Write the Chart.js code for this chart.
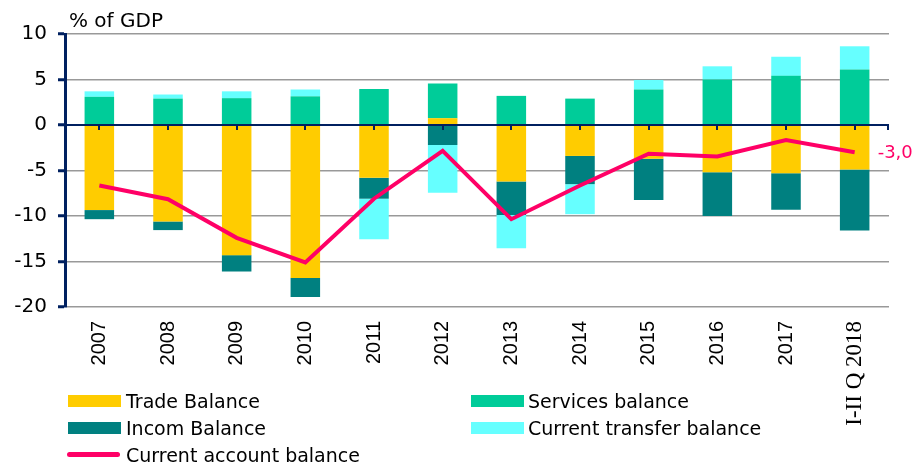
<!DOCTYPE html>
<html>
<head>
<meta charset="utf-8">
<script src="https://cdn.jsdelivr.net/npm/chart.js@4.4.1/dist/chart.umd.min.js"></script>
<style>
  html, body { margin: 0; padding: 0; background: #fff; }
  .wrap { position: relative; width: 914px; height: 463px; }
  .lg { position: absolute; font-family: "DejaVu Sans", sans-serif; font-size: 19px; color: #000; line-height: 22px; white-space: nowrap; }
  .sw { position: absolute; width: 53px; height: 12px; }
  .ln { position: absolute; width: 53px; height: 5px; border-radius: 3px; }
</style>
</head>
<body>
<div class="wrap">
  <canvas id="myChart" width="914" height="463"></canvas>
  <div class="sw" style="left:68px;top:395px;background:#FFCC00"></div>
  <div class="lg" style="left:126px;top:390px">Trade Balance</div>
  <div class="sw" style="left:68px;top:422px;background:#008080"></div>
  <div class="lg" style="left:126px;top:417px">Incom Balance</div>
  <div class="ln" style="left:67px;top:452px;background:#FF0066"></div>
  <div class="lg" style="left:126px;top:444px">Current account balance</div>
  <div class="sw" style="left:471px;top:395px;background:#00CC99"></div>
  <div class="lg" style="left:528px;top:390px">Services balance</div>
  <div class="sw" style="left:471px;top:422px;background:#66FFFF"></div>
  <div class="lg" style="left:528px;top:417px">Current transfer balance</div>
</div>
<script>
const categories = ["2007", "2008", "2009", "2010", "2011", "2012", "2013", "2014", "2015", "2016", "2017", "I-II Q 2018"];
const tradeBalance = [-9.35, -10.6, -14.3, -16.8, -5.8, 0.75, -6.2, -3.4, -3.7, -5.2, -5.3, -4.9];
const servicesBalance = [3.1, 2.9, 2.95, 3.15, 3.95, 3.8, 3.2, 2.9, 3.9, 5.0, 5.4, 6.1];
const incomBalance = [-1.0, -0.95, -1.8, -2.1, -2.3, -2.2, -3.7, -3.1, -4.55, -4.8, -4.0, -6.7];
const transferBalance = [0.6, 0.45, 0.75, 0.75, -4.45, -5.25, -3.65, -3.3, 1.05, 1.45, 2.1, 2.55];
const currentAccount = [-6.65, -8.15, -12.4, -15.1, -8.1, -2.85, -10.35, -6.65, -3.15, -3.45, -1.65, -3.0];
const lastLabel = "-3,0";

const NAVY = "#002060";

// zero line over the bars + small ticks, title and end label
const extrasPlugin = {
  id: "extras",
  beforeDatasetDraw(chart, args) {
    if (args.index !== 4) return;
    const ctx = chart.ctx;
    const area = chart.chartArea;
    const y0 = chart.scales.y.getPixelForValue(0);
    const xs = chart.scales.x;
    ctx.save();
    ctx.strokeStyle = NAVY;
    ctx.lineWidth = 2;
    ctx.beginPath();
    ctx.moveTo(area.left, y0);
    ctx.lineTo(area.right, y0);
    ctx.stroke();
    ctx.beginPath();
    for (let i = 0; i < categories.length; i++) {
      const x = Math.round(xs.getPixelForTick(i));
      ctx.moveTo(x, y0);
      ctx.lineTo(x, y0 + 5);
    }
    ctx.moveTo(area.right - 1, y0);
    ctx.lineTo(area.right - 1, y0 + 5);
    ctx.stroke();
    ctx.restore();
  },
  afterDraw(chart) {
    const ctx = chart.ctx;
    ctx.save();
    ctx.fillStyle = "#000";
    ctx.font = "20px 'DejaVu Sans'";
    ctx.textBaseline = "alphabetic";
    ctx.fillText("% of GDP", 69, 27);
    const meta = chart.getDatasetMeta(4);
    const pt = meta.data[meta.data.length - 1];
    ctx.fillStyle = "#FF0066";
    ctx.font = "18px 'DejaVu Sans'";
    ctx.textBaseline = "middle";
    ctx.fillText(lastLabel, pt.x + 23, pt.y + 1);
    ctx.restore();
  },
};

function createChart() {
  const ctx = document.getElementById("myChart").getContext("2d");
  new Chart(ctx, {
    type: "bar",
    data: {
      labels: categories,
      datasets: [
        { label: "Trade Balance", data: tradeBalance, backgroundColor: "#FFCC00", order: 1 },
        { label: "Services balance", data: servicesBalance, backgroundColor: "#00CC99", order: 1 },
        { label: "Incom Balance", data: incomBalance, backgroundColor: "#008080", order: 1 },
        { label: "Current transfer balance", data: transferBalance, backgroundColor: "#66FFFF", order: 1 },
        {
          type: "line",
          label: "Current account balance",
          data: currentAccount,
          borderColor: "#FF0066",
          borderWidth: 4,
          pointRadius: 0,
          tension: 0,
          stack: "line",
          order: 0,
        },
      ],
    },
    options: {
      responsive: false,
      animation: false,
      layout: { padding: { top: 34, right: 25, left: 0, bottom: 0 } },
      datasets: { bar: { barPercentage: 0.43, categoryPercentage: 1 } },
      plugins: { legend: { display: false }, tooltip: { enabled: false } },
      scales: {
        x: {
          stacked: true,
          grid: { display: false, drawTicks: false },
          border: { display: false },
          ticks: {
            minRotation: 90,
            maxRotation: 90,
            padding: 14,
            color: "#000",
            font: (c) => c.index === categories.length - 1
              ? { family: "'Liberation Serif'", size: 23 }
              : { family: "'Liberation Sans'", size: 20 },
          },
          afterFit(scale) { scale.height = 156; },
        },
        y: {
          stacked: true,
          min: -20,
          max: 10,
          ticks: { stepSize: 5, padding: 11, color: "#000", font: { family: "'DejaVu Sans'", size: 20 } },
          grid: {
            color: (c) => c.tick && c.tick.value === 0 ? NAVY : "#999",
            lineWidth: 1.5,
            tickColor: NAVY,
            tickLength: 7,
            tickWidth: 3,
          },
          border: { color: NAVY, width: 3 },
          afterFit(scale) { scale.width = 65; },
        },
      },
    },
    plugins: [extrasPlugin],
  });
}

document.addEventListener("DOMContentLoaded", () => {
  createChart();
});
</script>
</body>
</html>
